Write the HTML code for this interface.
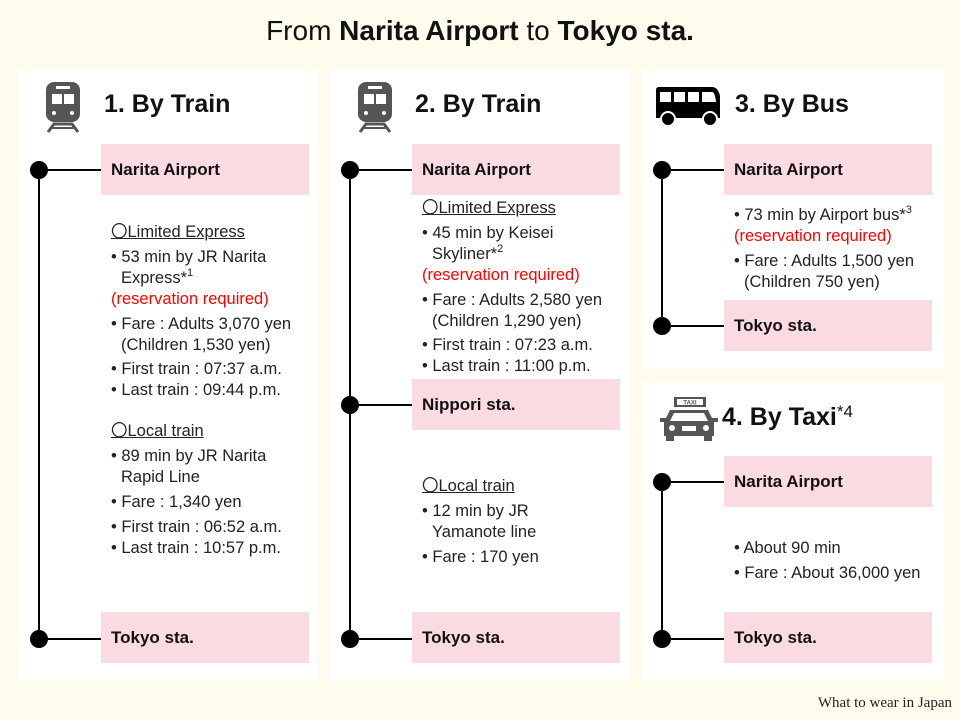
<html><head><style>
body{margin:0;width:960px;height:720px;background:#fefcec;font-family:"Liberation Sans",sans-serif;position:relative;overflow:hidden;color:#222}
.p{position:absolute;background:#fff}
.a{position:absolute;white-space:nowrap}
.t{font-size:16.5px;line-height:20px}
.box{position:absolute;background:#fadbe1;font-weight:bold;font-size:17px;line-height:51px;padding-left:10px;box-sizing:border-box;color:#111}
.v{position:absolute;width:2px;background:#000}
.h{position:absolute;height:1.5px;background:#000}
.d{position:absolute;width:18px;height:18px;border-radius:50%;background:#000}
.r{color:#f00}
.u{text-decoration:underline}
.hd{font-weight:bold;font-size:25px;color:#111}
sup{font-size:11px;line-height:0;vertical-align:7px}
</style></head><body>
<div class="a" style="left:0;width:960px;text-align:center;top:15px;font-size:28px;color:#111">From <b>Narita Airport</b> to <b>Tokyo sta.</b></div>
<div class="p" style="left:18px;top:70px;width:300px;height:610px"></div>
<div class="p" style="left:330px;top:70px;width:300px;height:610px"></div>
<div class="p" style="left:642px;top:70px;width:302px;height:298px"></div>
<div class="p" style="left:642px;top:382px;width:302px;height:298px"></div>

<svg class="a" style="left:44px;top:80px" width="40" height="54"><rect x="2" y="2" width="34" height="40" rx="8" fill="#555"/><rect x="8" y="14" width="10" height="10" fill="#fff"/><rect x="20" y="14" width="10" height="10" fill="#fff"/><rect x="12" y="6" width="14" height="3" fill="#fff"/><circle cx="10" cy="33" r="2" fill="#fff"/><circle cx="28" cy="33" r="2" fill="#fff"/><path d="M4 52 L10 44 H28 L34 52" stroke="#555" stroke-width="3" fill="none"/><line x1="6" y1="48" x2="32" y2="48" stroke="#555" stroke-width="2"/></svg>
<svg class="a" style="left:356px;top:80px" width="40" height="54"><rect x="2" y="2" width="34" height="40" rx="8" fill="#555"/><rect x="8" y="14" width="10" height="10" fill="#fff"/><rect x="20" y="14" width="10" height="10" fill="#fff"/><rect x="12" y="6" width="14" height="3" fill="#fff"/><circle cx="10" cy="33" r="2" fill="#fff"/><circle cx="28" cy="33" r="2" fill="#fff"/><path d="M4 52 L10 44 H28 L34 52" stroke="#555" stroke-width="3" fill="none"/><line x1="6" y1="48" x2="32" y2="48" stroke="#555" stroke-width="2"/></svg>
<svg class="a" style="left:654px;top:86px" width="68" height="42"><path d="M2 4 Q2 1 5 1 H58 Q64 1 66 10 V32 H2 Z" fill="#000"/><rect x="6" y="6" width="11" height="10" fill="#fff"/><rect x="20" y="6" width="11" height="10" fill="#fff"/><rect x="34" y="6" width="11" height="10" fill="#fff"/><path d="M48 6 H58 Q61 6 62 16 H48 Z" fill="#fff"/><circle cx="14" cy="33" r="7" fill="#000" stroke="#fff" stroke-width="2"/><circle cx="56" cy="33" r="7" fill="#000" stroke="#fff" stroke-width="2"/></svg>
<svg class="a" style="left:660px;top:396px" width="58" height="46"><rect x="14" y="1" width="32" height="10" fill="#555"/><rect x="17" y="3" width="26" height="6" fill="#fff"/><text x="30" y="8.5" font-size="6" text-anchor="middle" font-family="Liberation Sans" font-weight="bold" fill="#555">TAXI</text><path d="M10 14 H48 L54 26 V40 H4 V26 Z" fill="#555"/><path d="M14 17 H44 L48 25 H10 Z" fill="#fff"/><rect x="0" y="22" width="6" height="4" fill="#555"/><rect x="52" y="22" width="6" height="4" fill="#555"/><circle cx="12" cy="32" r="3" fill="#fff"/><circle cx="46" cy="32" r="3" fill="#fff"/><rect x="22" y="30" width="14" height="5" fill="#fff"/><rect x="6" y="40" width="8" height="5" fill="#555"/><rect x="44" y="40" width="8" height="5" fill="#555"/></svg>
<div class="a hd" style="left:104px;top:90px">1. By Train</div>
<div class="a hd" style="left:415px;top:90px">2. By Train</div>
<div class="a hd" style="left:735px;top:90px">3. By Bus</div>
<div class="a hd" style="left:722px;top:402px">4. By Taxi<span style="font-weight:normal;font-size:17px;vertical-align:8px">*4</span></div>

<div class="v" style="left:38px;top:170px;height:469px"></div>
<div class="d" style="left:30px;top:161px"></div><div class="d" style="left:30px;top:630px"></div>
<div class="h" style="left:39px;top:169px;width:62px"></div><div class="h" style="left:39px;top:638px;width:62px"></div>
<div class="box" style="left:101px;top:144px;width:208px;height:51px">Narita Airport</div>
<div class="box" style="left:101px;top:612px;width:208px;height:51px">Tokyo sta.</div>
<div class="a t" style="left:111px;top:222px"><span class="u">〇Limited Express</span></div>
<div class="a t" style="left:111px;top:247px">• 53 min by JR Narita</div>
<div class="a t" style="left:121px;top:268px">Express*<sup>1</sup></div>
<div class="a t r" style="left:111px;top:289px">(reservation required)</div>
<div class="a t" style="left:111px;top:314px">• Fare : Adults 3,070 yen</div>
<div class="a t" style="left:121px;top:335px">(Children 1,530 yen)</div>
<div class="a t" style="left:111px;top:359px">• First train : 07:37 a.m.</div>
<div class="a t" style="left:111px;top:380px">• Last train : 09:44 p.m.</div>
<div class="a t" style="left:111px;top:421px"><span class="u">〇Local train</span></div>
<div class="a t" style="left:111px;top:446px">• 89 min by JR Narita</div>
<div class="a t" style="left:121px;top:467px">Rapid Line</div>
<div class="a t" style="left:111px;top:492px">• Fare : 1,340 yen</div>
<div class="a t" style="left:111px;top:517px">• First train : 06:52 a.m.</div>
<div class="a t" style="left:111px;top:538px">• Last train : 10:57 p.m.</div>

<div class="v" style="left:349px;top:170px;height:469px"></div>
<div class="d" style="left:341px;top:161px"></div><div class="d" style="left:341px;top:396px"></div><div class="d" style="left:341px;top:630px"></div>
<div class="h" style="left:350px;top:169px;width:62px"></div><div class="h" style="left:350px;top:404px;width:62px"></div><div class="h" style="left:350px;top:638px;width:62px"></div>
<div class="box" style="left:412px;top:144px;width:208px;height:51px">Narita Airport</div>
<div class="box" style="left:412px;top:379px;width:208px;height:51px">Nippori sta.</div>
<div class="box" style="left:412px;top:612px;width:208px;height:51px">Tokyo sta.</div>
<div class="a t" style="left:422px;top:198px"><span class="u">〇Limited Express</span></div>
<div class="a t" style="left:422px;top:223px">• 45 min by Keisei</div>
<div class="a t" style="left:432px;top:244px">Skyliner*<sup>2</sup></div>
<div class="a t r" style="left:422px;top:265px">(reservation required)</div>
<div class="a t" style="left:422px;top:290px">• Fare : Adults 2,580 yen</div>
<div class="a t" style="left:432px;top:311px">(Children 1,290 yen)</div>
<div class="a t" style="left:422px;top:335px">• First train : 07:23 a.m.</div>
<div class="a t" style="left:422px;top:356px">• Last train : 11:00 p.m.</div>
<div class="a t" style="left:422px;top:476px"><span class="u">〇Local train</span></div>
<div class="a t" style="left:422px;top:501px">• 12 min by JR</div>
<div class="a t" style="left:432px;top:522px">Yamanote line</div>
<div class="a t" style="left:422px;top:547px">• Fare : 170 yen</div>

<div class="v" style="left:661px;top:170px;height:157px"></div>
<div class="d" style="left:653px;top:161px"></div><div class="d" style="left:653px;top:317px"></div>
<div class="h" style="left:662px;top:169px;width:62px"></div><div class="h" style="left:662px;top:325px;width:62px"></div>
<div class="box" style="left:724px;top:144px;width:208px;height:51px">Narita Airport</div>
<div class="box" style="left:724px;top:300px;width:208px;height:51px">Tokyo sta.</div>
<div class="a t" style="left:734px;top:205px">• 73 min by Airport bus*<sup>3</sup></div>
<div class="a t r" style="left:734px;top:226px">(reservation required)</div>
<div class="a t" style="left:734px;top:251px">• Fare : Adults 1,500 yen</div>
<div class="a t" style="left:744px;top:272px">(Children 750 yen)</div>

<div class="v" style="left:661px;top:482px;height:157px"></div>
<div class="d" style="left:653px;top:473px"></div><div class="d" style="left:653px;top:630px"></div>
<div class="h" style="left:662px;top:481px;width:62px"></div><div class="h" style="left:662px;top:638px;width:62px"></div>
<div class="box" style="left:724px;top:456px;width:208px;height:51px">Narita Airport</div>
<div class="box" style="left:724px;top:612px;width:208px;height:51px">Tokyo sta.</div>
<div class="a t" style="left:734px;top:538px">• About 90 min</div>
<div class="a t" style="left:734px;top:563px">• Fare : About 36,000 yen</div>

<div class="a" style="right:8px;top:695px;font-family:'Liberation Serif',serif;font-size:15px;color:#222">What to wear in Japan</div>
</body></html>
